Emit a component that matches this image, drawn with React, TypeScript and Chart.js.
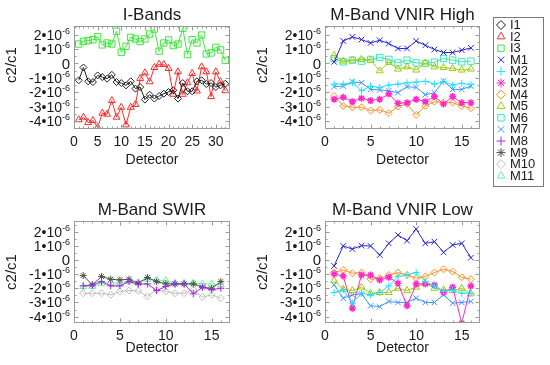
import React, { useEffect, useRef } from 'react';
import { Chart, registerables } from 'chart.js';

Chart.register(...registerables);

const FONT = '"Liberation Sans", Arial, Helvetica, sans-serif';
const TEXT = '#1a1a1a';
const FRAME = '#9a9a9a';

// Detector numbers (x categories)
const detectorsI = [1, 2, 3, 4, 5, 6, 7, 8, 9, 10, 11, 12, 13, 14, 15, 16, 17, 18, 19, 20, 21, 22, 23, 24, 25, 26, 27, 28, 29, 30, 31, 32];
const detectorsM = [1, 2, 3, 4, 5, 6, 7, 8, 9, 10, 11, 12, 13, 14, 15, 16];

// Tick labels
const xTicksI = [0, 5, 10, 15, 20, 25, 30];
const xTicksM = [0, 5, 10, 15];
const yTicks = [-4, -3, -2, -1, 0, 1, 2]; // in units of 1e-6

// c2/c1 values, in units of 1e-6
const I1 = [-1.17, -0.28, -1.24, -1.29, -0.83, -0.95, -1.06, -0.79, -1.29, -1.36, -1.52, -1.24, -1.75, -1.64, -2.51, -2.17, -2.44, -2.26, -2.10, -1.98, -1.86, -2.44, -1.36, -1.93, -1.93, -1.24, -1.17, -1.43, -1.36, -1.64, -1.52, -1.41];
const I2 = [-3.91, -3.73, -4.10, -3.96, -4.44, -3.45, -3.52, -2.58, -3.73, -3.04, -4.26, -3.04, -2.85, -1.04, -0.65, -1.27, -0.28, -0.05, -0.07, -0.35, -2.14, -0.58, -2.14, -1.34, -0.69, -1.91, -0.23, -0.58, -2.30, -0.58, -1.27, -1.89];
const I3 = [1.35, 1.54, 1.59, 1.65, 1.86, 1.29, 1.42, 1.35, 2.23, 0.78, 1.19, 1.81, 1.70, 1.52, 1.70, 2.04, 2.39, 0.85, 1.42, 1.63, 1.24, 1.35, 2.44, 0.62, 1.65, 1.42, 1.97, 0.66, 0.73, 1.12, 0.94, 0.21];

// M-Band VNIR High gain
const M1H = [0.11, 1.56, 1.84, 1.66, 1.42, 1.61, 1.38, 1.04, 1.04, 1.56, 1.26, 0.97, 0.76, 0.76, 0.92, 1.08];
const M2H = [-1.43, -1.43, -1.34, -1.89, -1.57, -1.66, -1.50, -1.43, -1.34, -1.29, -1.24, -1.43, -1.27, -1.50, -1.38, -1.47];
const M3H = [-2.48, -2.35, -2.65, -2.42, -2.58, -2.48, -2.12, -2.76, -2.72, -2.48, -2.65, -2.30, -2.81, -2.30, -2.72, -2.72];
const M4H = [-2.26, -2.95, -3.04, -3.04, -3.27, -3.22, -3.45, -2.99, -2.81, -3.57, -2.95, -2.65, -2.72, -2.72, -2.95, -3.11];
const M5H = [0.57, 0.16, 0.23, 0.28, 0.23, -0.51, 0.07, -0.39, -0.23, -0.46, 0.04, -0.23, -0.28, -0.35, -0.46, -0.39];
const M6H = [0.34, 0.11, 0.23, 0.16, 0.28, 0.41, 0.28, 0.04, 0.23, 0.04, 0.0, 0.09, 0.34, 0.23, 0.11, 0.16];
const M7H = [-1.61, -1.57, -1.27, -1.34, -1.80, -1.84, -1.89, -2.03, -1.61, -1.66, -2.17, -2.03, -1.22, -1.80, -1.80, -1.57];

// M-Band SWIR
const M8 = [-1.83, -1.76, -1.53, -1.83, -1.83, -1.53, -1.71, -1.69, -2.16, -1.88, -1.69, -1.69, -2.39, -1.92, -2.11, -2.00];
const M9 = [-1.10, -1.76, -1.17, -1.36, -1.41, -1.36, -1.64, -1.24, -1.53, -1.69, -1.69, -1.69, -1.69, -1.92, -2.00, -1.53];
const M10 = [-2.35, -2.35, -2.35, -2.46, -2.23, -2.16, -2.18, -2.58, -2.11, -2.23, -2.35, -2.35, -2.11, -2.63, -2.46, -2.70];
const M11 = [-1.88, -1.88, -1.64, -1.60, -1.64, -1.53, -1.60, -1.36, -1.41, -1.46, -1.64, -1.64, -1.64, -1.69, -1.69, -1.76];

// M-Band VNIR Low gain
const M1L = [-0.42, 0.99, 0.77, 1.01, 0.99, 0.35, 1.17, 1.76, 1.36, 2.18, 1.17, 1.29, 0.54, 1.06, 1.17, 0.16];
const M2L = [-2.30, -2.11, -3.05, -2.35, -2.46, -2.30, -1.83, -1.17, -1.06, -0.89, -1.53, -1.83, -2.23, -2.11, -2.35, -2.35];
const M3L = [-0.99, -1.13, -3.40, -1.06, -1.06, -1.41, -1.22, -1.64, -3.24, -1.69, -1.69, -1.76, -2.30, -1.92, -4.46, -1.83];
const M4L = [-0.89, -0.70, -0.94, -0.89, -1.36, -1.29, -1.06, -0.89, -1.06, -1.29, -1.17, -0.89, -0.66, -0.82, -1.22, -1.36];
const M5L = [-1.46, -2.07, -2.16, -1.92, -2.35, -2.30, -2.30, -2.00, -2.16, -1.92, -1.64, -2.00, -2.11, -2.16, -2.00, -2.39];
const M7L = [-1.76, -2.70, -2.46, -2.39, -3.24, -3.29, -2.93, -3.00, -3.00, -2.70, -3.00, -3.00, -2.46, -3.05, -3.00, -2.93];

const LEGEND_NAMES = ['I1', 'I2', 'I3', 'M1', 'M2', 'M3', 'M4', 'M5', 'M6', 'M7', 'M8', 'M9', 'M10', 'M11'];

const STYLES: Record<string, { color: string; shape: string; r: number; bw: number }> = {
  I1: { color: '#1e1e1e', shape: 'rectRot', r: 3.5, bw: 1 },
  I2: { color: '#ff2a2a', shape: 'triangle', r: 4, bw: 1 },
  I3: { color: '#3ee83e', shape: 'rect', r: 4.5, bw: 1 },
  M1: { color: '#2626dc', shape: 'crossRot', r: 4, bw: 1 },
  M2: { color: '#1ee0ff', shape: 'cross', r: 3.5, bw: 1 },
  M3: { color: '#ff28c8', shape: 'star', r: 3.5, bw: 1.5 },
  M4: { color: '#ff8c22', shape: 'rectRot', r: 3.5, bw: 1 },
  M5: { color: '#9ccc10', shape: 'triangle', r: 4, bw: 1 },
  M6: { color: '#36e8b4', shape: 'rect', r: 4.5, bw: 1 },
  M7: { color: '#3a96ff', shape: 'crossRot', r: 4, bw: 1 },
  M8: { color: '#a426ec', shape: 'cross', r: 3.5, bw: 1 },
  M9: { color: '#505050', shape: 'star', r: 3.5, bw: 1 },
  M10: { color: '#bdbdbd', shape: 'rectRot', r: 3.5, bw: 1 },
  M11: { color: '#70f09a', shape: 'triangle', r: 4, bw: 1 },
};

type Series = { name: string; values: number[] };
type Panel = {
  x: number; y: number; w: number; h: number;
  area: { l: number; t: number; r: number; b: number };
  xMax: number; yMin: number; yMax: number;
  xTicks: number[];
  title: string; titleY: number;
  yTitleOffset: number; yTitleY: number;
  xTitlePad: number;
  detectors: number[];
  series: Series[];
  legend?: { x: number; y: number; w: number; h: number; markX: number; textX: number; firstY: number; step: number };
};

const PANELS: Panel[] = [
  {
    x: 0, y: 0, w: 255, h: 190,
    area: { l: 74, t: 26, r: 230, b: 129 },
    xMax: 33, yMin: -4.55, yMax: 2.6, xTicks: xTicksI,
    title: 'I-Bands', titleY: 15, yTitleOffset: 62, yTitleY: 65, xTitlePad: 21,
    detectors: detectorsI,
    series: [{ name: 'I1', values: I1 }, { name: 'I2', values: I2 }, { name: 'I3', values: I3 }],
  },
  {
    x: 255, y: 0, w: 295, h: 190,
    area: { l: 70, t: 26, r: 225, b: 129 },
    xMax: 17, yMin: -4.55, yMax: 2.6, xTicks: xTicksM,
    title: 'M-Band VNIR High', titleY: 15, yTitleOffset: 62, yTitleY: 65, xTitlePad: 21,
    detectors: detectorsM,
    series: [
      { name: 'M1', values: M1H }, { name: 'M2', values: M2H }, { name: 'M3', values: M3H },
      { name: 'M4', values: M4H }, { name: 'M5', values: M5H }, { name: 'M6', values: M6H },
      { name: 'M7', values: M7H },
    ],
    legend: { x: 238, y: 17, w: 50, h: 169, markX: 246, textX: 255, firstY: 25, step: 11.6 },
  },
  {
    x: 0, y: 190, w: 255, h: 175,
    area: { l: 74, t: 31, r: 230, b: 133 },
    xMax: 17, yMin: -4.45, yMax: 2.75, xTicks: xTicksM,
    title: 'M-Band SWIR', titleY: 20, yTitleOffset: 62, yTitleY: 82, xTitlePad: 8,
    detectors: detectorsM,
    series: [{ name: 'M8', values: M8 }, { name: 'M9', values: M9 }, { name: 'M10', values: M10 }, { name: 'M11', values: M11 }],
  },
  {
    x: 255, y: 190, w: 295, h: 175,
    area: { l: 70, t: 31, r: 225, b: 133 },
    xMax: 17, yMin: -4.45, yMax: 2.75, xTicks: xTicksM,
    title: 'M-Band VNIR Low', titleY: 20, yTitleOffset: 62, yTitleY: 82, xTitlePad: 8,
    detectors: detectorsM,
    series: [
      { name: 'M1', values: M1L }, { name: 'M2', values: M2L }, { name: 'M3', values: M3L },
      { name: 'M4', values: M4L }, { name: 'M5', values: M5L }, { name: 'M7', values: M7L },
    ],
  },
];

function drawMarker(ctx: CanvasRenderingContext2D, shape: string, x: number, y: number, r: number) {
  ctx.beginPath();
  const s2 = Math.SQRT1_2 * r;
  switch (shape) {
    case 'rect':
      ctx.rect(x - s2, y - s2, 2 * s2, 2 * s2);
      break;
    case 'rectRot':
      ctx.moveTo(x - r, y); ctx.lineTo(x, y - r); ctx.lineTo(x + r, y); ctx.lineTo(x, y + r); ctx.closePath();
      break;
    case 'triangle': {
      let a = 0;
      ctx.moveTo(x + Math.sin(a) * r, y - Math.cos(a) * r);
      a += (2 * Math.PI) / 3;
      ctx.lineTo(x + Math.sin(a) * r, y - Math.cos(a) * r);
      a += (2 * Math.PI) / 3;
      ctx.lineTo(x + Math.sin(a) * r, y - Math.cos(a) * r);
      ctx.closePath();
      break;
    }
    case 'cross':
      ctx.moveTo(x, y - r); ctx.lineTo(x, y + r); ctx.moveTo(x - r, y); ctx.lineTo(x + r, y);
      break;
    case 'crossRot':
      ctx.moveTo(x - s2, y - s2); ctx.lineTo(x + s2, y + s2); ctx.moveTo(x - s2, y + s2); ctx.lineTo(x + s2, y - s2);
      break;
    case 'star':
      ctx.moveTo(x, y - r); ctx.lineTo(x, y + r); ctx.moveTo(x - r, y); ctx.lineTo(x + r, y);
      ctx.moveTo(x - s2, y - s2); ctx.lineTo(x + s2, y + s2); ctx.moveTo(x - s2, y + s2); ctx.lineTo(x + s2, y - s2);
      break;
  }
  ctx.stroke();
}

function makeDecor(p: Panel) {
  return {
    id: 'decor',
    afterDraw(chart: any) {
      const ctx: CanvasRenderingContext2D = chart.ctx;
      const a = chart.chartArea;
      const xs = chart.scales.x;
      const ys = chart.scales.y;
      ctx.save();
      const L = Math.round(a.left) + 0.5;
      const R = Math.round(a.right) - 0.5;
      const T = Math.round(a.top) + 0.5;
      const B = Math.round(a.bottom) - 0.5;
      ctx.strokeStyle = FRAME;
      ctx.lineWidth = 1;
      ctx.strokeRect(L, T, R - L, B - T);
      ctx.beginPath();
      for (let v = 1; v < p.xMax; v += 1) {
        const px = Math.round(xs.getPixelForValue(v)) + 0.5;
        const len = v % 5 === 0 ? 4 : 2;
        ctx.moveTo(px, B); ctx.lineTo(px, B - len);
        ctx.moveTo(px, T); ctx.lineTo(px, T + len);
      }
      for (let k = Math.ceil(p.yMin * 2); k <= Math.floor(p.yMax * 2); k++) {
        const py = Math.round(ys.getPixelForValue(k / 2)) + 0.5;
        const len = k % 2 === 0 ? 4 : 2;
        ctx.moveTo(L, py); ctx.lineTo(L + len, py);
        ctx.moveTo(R, py); ctx.lineTo(R - len, py);
      }
      ctx.stroke();

      // title
      ctx.fillStyle = TEXT;
      ctx.textAlign = 'center';
      ctx.textBaseline = 'middle';
      ctx.font = `17px ${FONT}`;
      ctx.fillText(p.title, (a.left + a.right) / 2, p.titleY);

      // y tick labels with superscript exponent
      const xr = a.left - 4;
      ctx.textAlign = 'right';
      ctx.textBaseline = 'alphabetic';
      for (const iv of yTicks) {
        const py = ys.getPixelForValue(iv);
        if (iv === 0) {
          ctx.font = `15px ${FONT}`;
          ctx.fillText('0', xr, py + 5.5);
        } else {
          ctx.font = `9px ${FONT}`;
          const sup = '-6';
          const w = ctx.measureText(sup).width;
          ctx.fillText(sup, xr, py - 1);
          ctx.font = `14px ${FONT}`;
          ctx.fillText(`${iv}\u202210`, xr - w, py + 5);
        }
      }

      // y axis title
      ctx.save();
      ctx.translate(a.left - p.yTitleOffset, p.yTitleY);
      ctx.rotate(-Math.PI / 2);
      ctx.textAlign = 'center';
      ctx.textBaseline = 'middle';
      ctx.font = `15px ${FONT}`;
      ctx.fillText('c2/c1', 0, 0);
      ctx.restore();

      // legend box
      if (p.legend) {
        const lg = p.legend;
        ctx.strokeStyle = '#7a7a7a';
        ctx.lineWidth = 1;
        ctx.strokeRect(lg.x + 0.5, lg.y + 0.5, lg.w, lg.h);
        ctx.font = `13px ${FONT}`;
        ctx.textAlign = 'left';
        ctx.textBaseline = 'middle';
        LEGEND_NAMES.forEach((name, i) => {
          const st = STYLES[name];
          const yy = lg.firstY + i * lg.step;
          ctx.strokeStyle = st.color;
          ctx.lineWidth = 1;
          drawMarker(ctx, st.shape, lg.markX, yy, 4.5);
          ctx.fillStyle = TEXT;
          ctx.fillText(name, lg.textX, yy + 0.5);
        });
      }
      ctx.restore();
    },
  };
}

function PanelChart({ p }: { p: Panel }) {
  const ref = useRef<HTMLCanvasElement>(null);
  useEffect(() => {
    const canvas = ref.current;
    if (!canvas) return;
    const chart = new Chart(canvas, {
      type: 'line',
      data: {
        datasets: p.series.map((s) => {
          const st = STYLES[s.name];
          return {
            label: s.name,
            data: p.detectors.map((d, i) => ({ x: d, y: s.values[i] })),
            borderColor: st.color,
            backgroundColor: 'rgba(0,0,0,0)',
            borderWidth: 1,
            pointStyle: st.shape as any,
            pointRadius: st.r,
            pointBorderColor: st.color,
            pointBackgroundColor: 'rgba(0,0,0,0)',
            pointBorderWidth: st.bw,
            tension: 0,
          };
        }),
      },
      options: {
        responsive: false,
        animation: false,
        devicePixelRatio: 1,
        layout: { padding: { left: 0, top: p.area.t, right: p.w - p.area.r, bottom: 0 } },
        plugins: { legend: { display: false }, tooltip: { enabled: false }, title: { display: false } },
        scales: {
          x: {
            type: 'linear',
            min: 0,
            max: p.xMax,
            afterBuildTicks: (s: any) => {
              s.ticks = p.xTicks.map((v) => ({ value: v }));
            },
            afterFit: (s: any) => {
              s.height = p.h - p.area.b;
            },
            ticks: { padding: 5, color: TEXT, font: { family: FONT, size: 14 }, maxRotation: 0, autoSkip: false },
            grid: { display: false, drawTicks: false },
            border: { display: false },
            title: { display: true, text: 'Detector', color: TEXT, font: { family: FONT, size: 14 }, padding: { top: 0, bottom: p.xTitlePad } },
          },
          y: {
            type: 'linear',
            min: p.yMin,
            max: p.yMax,
            afterBuildTicks: (s: any) => {
              s.ticks = yTicks.map((v) => ({ value: v }));
            },
            afterFit: (s: any) => {
              s.width = p.area.l;
            },
            ticks: { display: false },
            grid: { display: false, drawTicks: false },
            border: { display: false },
          },
        },
      } as any,
      plugins: [makeDecor(p)],
    });
    return () => chart.destroy();
  }, [p]);
  return (
    <canvas
      ref={ref}
      width={p.w}
      height={p.h}
      style={{ position: 'absolute', left: p.x, top: p.y, width: p.w, height: p.h }}
    />
  );
}

export default function App() {
  return (
    <div style={{ position: 'fixed', left: 0, top: 0, width: 550, height: 365, background: '#ffffff', overflow: 'hidden' }}>
      {PANELS.map((p, i) => (
        <PanelChart key={i} p={p} />
      ))}
    </div>
  );
}
